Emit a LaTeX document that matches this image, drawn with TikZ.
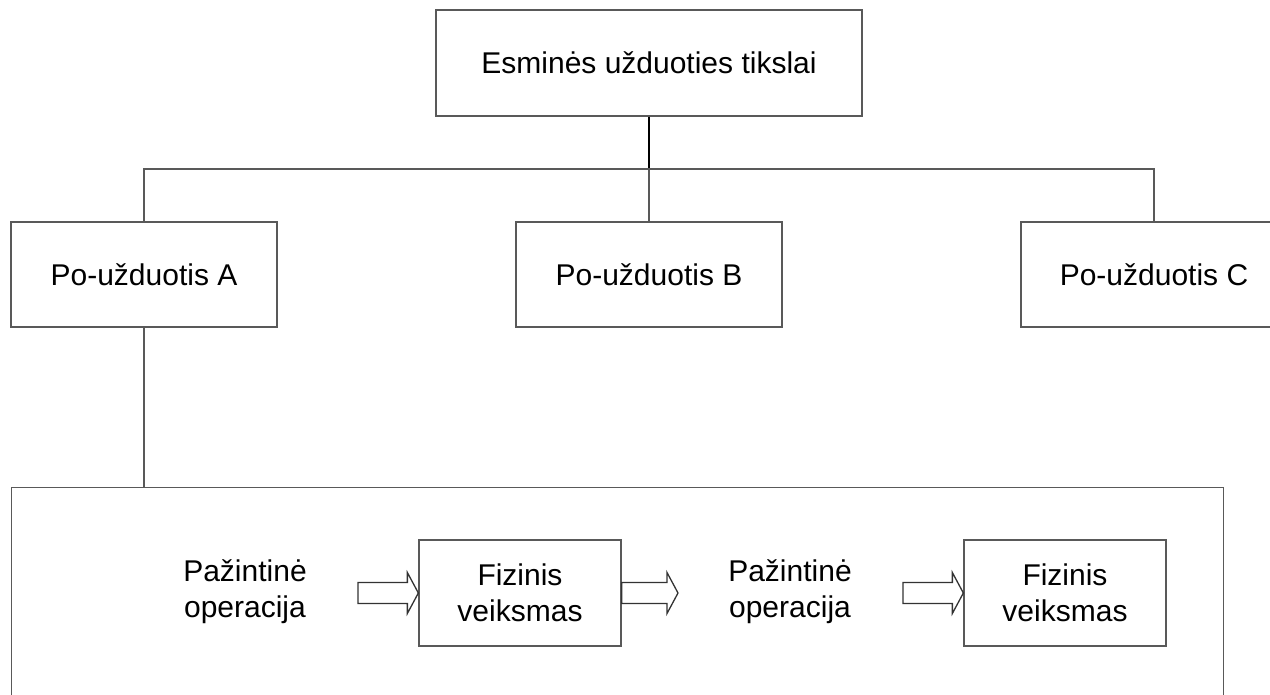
\documentclass[tikz,border=0pt]{standalone}
\usepackage{fontspec}
\setmainfont{Liberation Sans}
\usetikzlibrary{calc}
\newcommand\blockarr[2]{%
  \draw[conn, draw=black!80] let \p1=(#1), \p2=(#2) in
    (\x1,\y1+10.5pt) -- (\x2-11pt,\y1+10.5pt) -- (\x2-11pt,\y1+20.5pt) -- (\x2,\y1)
    -- (\x2-11pt,\y1-20.5pt) -- (\x2-11pt,\y1-10.5pt) -- (\x1,\y1-10.5pt) -- cycle;}
\begin{document}
\begin{tikzpicture}[x=1pt,y=-1pt,
  conn/.style={draw=black!65, line width=1.3pt},
  box/.style={draw=black!65, line width=1.3pt, fill=white, inner sep=0pt, align=center,
    font=\fontsize{30}{36}\selectfont},
  txt/.style={inner sep=0pt, align=center, font=\fontsize{30}{36}\selectfont},
  sub/.style={box, minimum width=266pt, minimum height=105pt},
  act/.style={box, minimum width=202pt, minimum height=106pt}]
\useasboundingbox (0,0) rectangle (1270,694);
\clip (0,0) rectangle (1270,694);
% top
\node[box, minimum width=426pt, minimum height=106pt] (top) at (649,63) {Esminės užduoties tikslai};
% sub-tasks
\node[sub] (A) at (144,274.5) {Po-užduotis A};
\node[sub] (B) at (649,274.5) {Po-užduotis B};
\node[sub] (C) at (1154,274.5) {Po-užduotis C};
% big box
\node[draw=black!65, line width=1.3pt, minimum width=1212pt, minimum height=230pt, anchor=north west, inner sep=0pt] (big) at (11,487) {};
% tree connectors
\coordinate (j) at (649,169);
\draw[line width=2.4pt, black] (top.south) -- (j);
\draw[conn] (A.north) |- (j);
\draw[conn] (C.north) |- (j);
\draw[conn] (j) -- (B.north);
\draw[conn] (A.south) -- (A.south |- big.north);
% inner content
\node[txt] (p1) at (245,592) {Pažintinė\\operacija};
\node[act] (f1) at (520,593) {Fizinis\\veiksmas};
\node[txt] (p2) at (790,592) {Pažintinė\\operacija};
\node[act] (f2) at (1065,593) {Fizinis\\veiksmas};
\coordinate (a1) at (358,593);
\coordinate (a2) at (678,593);
\coordinate (a3) at (903,593);
\blockarr{a1}{f1.west}
\blockarr{f1.east}{a2}
\blockarr{a3}{f2.west}
\end{tikzpicture}
\end{document}
